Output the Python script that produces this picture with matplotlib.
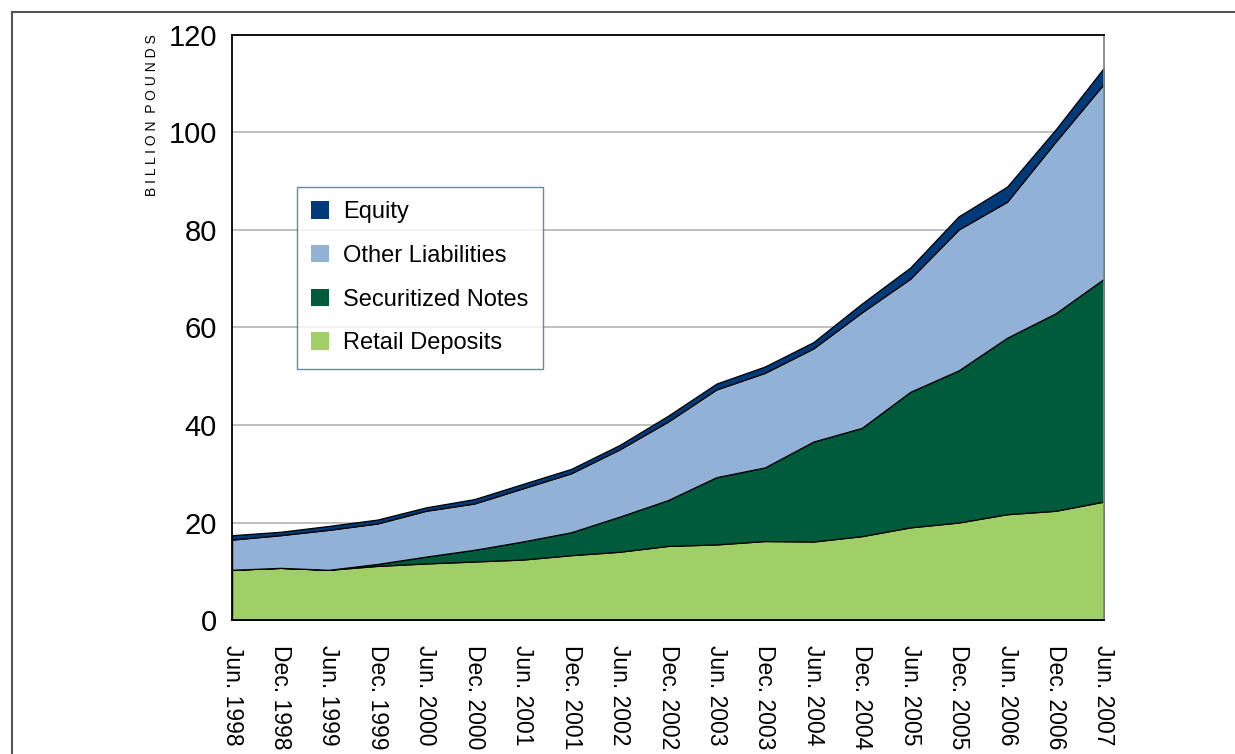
import matplotlib
matplotlib.use("Agg")
import matplotlib.pyplot as plt
from matplotlib.lines import Line2D

plt.rcParams['font.family'] = ['Liberation Sans', 'DejaVu Sans']

# half-year dates
dates = ["Jun. 1998", "Dec. 1998", "Jun. 1999", "Dec. 1999", "Jun. 2000", "Dec. 2000",
         "Jun. 2001", "Dec. 2001", "Jun. 2002", "Dec. 2002", "Jun. 2003", "Dec. 2003",
         "Jun. 2004", "Dec. 2004", "Jun. 2005", "Dec. 2005", "Jun. 2006", "Dec. 2006",
         "Jun. 2007"]

# billion pounds
retail_deposits = [10.3, 10.7, 10.3, 11.1, 11.6, 12.0, 12.4, 13.3, 14.0, 15.2,
                   15.5, 16.2, 16.1, 17.2, 19.0, 20.0, 21.7, 22.4, 24.3]
securitized_notes = [0.0, 0.0, 0.0, 0.4, 1.4, 2.4, 3.7, 4.7, 7.2, 9.4,
                     13.8, 15.1, 20.5, 22.2, 27.8, 31.2, 36.2, 40.5, 45.7]
other_liabilities = [6.2, 6.7, 8.2, 8.3, 9.4, 9.5, 10.9, 12.1, 13.8, 16.1,
                     18.0, 19.4, 19.1, 23.7, 23.2, 28.9, 27.9, 35.2, 40.0]
equity = [0.9, 0.7, 0.8, 0.8, 0.7, 0.9, 0.9, 0.9, 0.9, 1.2,
          1.2, 1.3, 1.3, 1.8, 2.3, 2.7, 3.1, 2.5, 3.3]

labels = ["Retail Deposits", "Securitized Notes", "Other Liabilities", "Equity"]
colors = ["#a0cf67", "#005a3c", "#92b1d6", "#003a78"]

fig = plt.figure(figsize=(12.35, 7.54), dpi=100)
ax = fig.add_axes([0.1879, 0.1777, 0.706, 0.7759])

x = list(range(len(dates)))
ax.stackplot(x, retail_deposits, securitized_notes, other_liabilities, equity,
             colors=colors, labels=labels, edgecolor="black", linewidth=0.9)

ax.set_xlim(0, len(dates) - 1)
ax.set_ylim(0, 120)
ax.set_yticks([0, 20, 40, 60, 80, 100, 120])
ax.set_axisbelow(True)
ax.yaxis.grid(True, color="#b4b4b4", linewidth=1.2)

ax.set_xticks(x)
ax.set_xticklabels(dates, rotation=270, ha="center", va="top", fontsize=16.5)
ax.tick_params(axis="x", length=0, pad=18)
ax.tick_params(axis="y", length=0, pad=11, labelsize=21)

for side in ["left", "bottom", "top"]:
    ax.spines[side].set_color("black")
    ax.spines[side].set_linewidth(1.3)
ax.spines["right"].set_color("#888888")
ax.spines["right"].set_linewidth(1.3)

handles, labs = ax.get_legend_handles_labels()
leg = ax.legend(handles[::-1], labs[::-1], loc="upper left",
                bbox_to_anchor=(0.0745, 0.74), borderaxespad=0,
                fontsize=17, frameon=True, fancybox=False,
                handlelength=0.76, handleheight=0.76, handletextpad=0.6,
                labelspacing=0.92, borderpad=0.6)
leg.get_frame().set_edgecolor("#3d6a9e")
leg.get_frame().set_linewidth(1.0)
for h in leg.legend_handles:
    h.set_edgecolor("none")

fig.text(152 / 1235, 1 - 115 / 754, "B I L L I O N  P O U N D S", rotation=90,
         ha="center", va="center", fontsize=10)

# outer frame
fig.add_artist(Line2D([12 / 1235, 1.0], [1 - 12 / 754, 1 - 12 / 754],
                      transform=fig.transFigure, color="#555555", linewidth=1.5))
fig.add_artist(Line2D([12 / 1235, 12 / 1235], [0.0, 1 - 12 / 754],
                      transform=fig.transFigure, color="#555555", linewidth=1.5))

fig.savefig("out.png", dpi=100)
